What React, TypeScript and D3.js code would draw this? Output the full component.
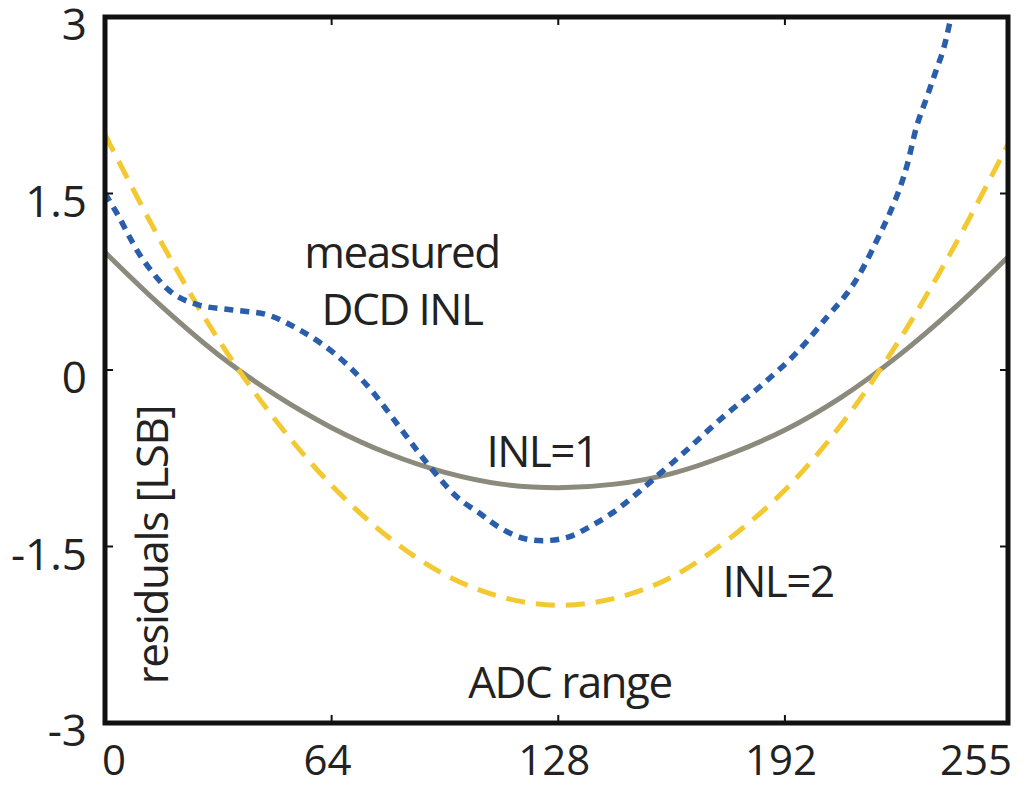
import { useEffect, useRef } from "react";
import * as d3 from "d3";

// ADC codes for the two reference parabolas
const adcCodes = [0, 16, 32, 48, 64, 80, 96, 112, 128, 144, 160, 176, 192, 208, 224, 240, 255];
const inl1Residuals = [1.0, 0.54, 0.13, -0.21, -0.49, -0.71, -0.87, -0.97, -1.0, -0.97, -0.88, -0.72, -0.51, -0.23, 0.12, 0.53, 0.96];
const inl2Residuals = [2.0, 1.08, 0.26, -0.42, -0.98, -1.42, -1.74, -1.93, -2.0, -1.94, -1.76, -1.44, -1.02, -0.46, 0.24, 1.06, 1.92];

// measured DCD INL
const measuredCodes = [0, 3.4, 10.7, 19.2, 26.8, 36, 45.7, 55, 64.4, 74, 83.3, 90.9, 99.4, 105.9, 111.5, 118, 124.3, 130.8, 137, 143.5, 149, 154.8, 164.3, 174.5, 185, 195.4, 203.9, 209.5, 213.2, 218.9, 221.7, 224.5, 226.5, 229.3, 232.1, 234.4, 236.7, 238.4, 241];
const measuredResiduals = [1.5, 1.33, 0.94, 0.65, 0.55, 0.51, 0.47, 0.34, 0.15, -0.13, -0.49, -0.79, -1.08, -1.22, -1.34, -1.43, -1.45, -1.42, -1.33, -1.21, -1.08, -0.93, -0.68, -0.4, -0.14, 0.15, 0.45, 0.65, 0.82, 1.16, 1.34, 1.55, 1.74, 2.08, 2.32, 2.52, 2.72, 2.93, 3.3];

const xTicks = [0, 64, 128, 192, 255];
const yTicks = [3, 1.5, 0, -1.5, -3];

const W = 1027;
const H = 785;
const margin = { left: 105, right: 19, top: 17, bottom: 62 };
const FONT = "'Open Sans', 'Noto Sans', sans-serif";

function App() {
  const svgRef = useRef<SVGSVGElement>(null);

  useEffect(() => {
    const svg = d3.select(svgRef.current);
    svg.selectAll("*").remove();

    const x = d3.scaleLinear().domain([0, 255]).range([margin.left, W - margin.right]);
    const y = d3.scaleLinear().domain([-3, 3]).range([H - margin.bottom, margin.top]);

    svg
      .append("clipPath")
      .attr("id", "plot-clip")
      .append("rect")
      .attr("x", x(0))
      .attr("y", y(3))
      .attr("width", x(255) - x(0))
      .attr("height", y(-3) - y(3));

    const plot = svg.append("g").attr("clip-path", "url(#plot-clip)");
    const line = d3
      .line<[number, number]>()
      .x((d) => x(d[0]))
      .y((d) => y(d[1]))
      .curve(d3.curveCatmullRom);

    const series = [
      { xs: adcCodes, ys: inl1Residuals, color: "#8b8a7c", dash: null, w: 5 },
      { xs: adcCodes, ys: inl2Residuals, color: "#f3c932", dash: "19 11", w: 5 },
      { xs: measuredCodes, ys: measuredResiduals, color: "#2a5daa", dash: "9 7", w: 5.5 },
    ];

    series.forEach((s) => {
      plot
        .append("path")
        .datum(s.xs.map((v, i) => [v, s.ys[i]] as [number, number]))
        .attr("d", line)
        .attr("fill", "none")
        .attr("stroke", s.color)
        .attr("stroke-width", s.w)
        .attr("stroke-dasharray", s.dash);
    });

    // inward ticks on all four sides
    const inner = [64, 128, 192];
    const innerY = [1.5, 0, -1.5];
    const tickLen = 8;
    const axes = svg.append("g").attr("stroke", "#111").attr("stroke-width", 2);
    inner.forEach((t) => {
      axes.append("line").attr("x1", x(t)).attr("x2", x(t)).attr("y1", y(-3)).attr("y2", y(-3) - tickLen);
      axes.append("line").attr("x1", x(t)).attr("x2", x(t)).attr("y1", y(3)).attr("y2", y(3) + tickLen);
    });
    innerY.forEach((t) => {
      axes.append("line").attr("x1", x(0)).attr("x2", x(0) + tickLen).attr("y1", y(t)).attr("y2", y(t));
      axes.append("line").attr("x1", x(255)).attr("x2", x(255) - tickLen).attr("y1", y(t)).attr("y2", y(t));
    });

    svg
      .append("rect")
      .attr("x", x(0))
      .attr("y", y(3))
      .attr("width", x(255) - x(0))
      .attr("height", y(-3) - y(3))
      .attr("fill", "none")
      .attr("stroke", "#111")
      .attr("stroke-width", 5);

    const labels = svg.append("g").attr("font-family", FONT).attr("fill", "#222");

    labels
      .selectAll(".xtick")
      .data(xTicks)
      .join("text")
      .attr("class", "xtick")
      .attr("x", (d, i) => x(d) + (i === 0 ? -3 : i === xTicks.length - 1 ? 4 : -4))
      .attr("y", 775)
      .attr("font-size", 42)
      .attr("text-anchor", (_, i) => (i === 0 ? "start" : i === xTicks.length - 1 ? "end" : "middle"))
      .text((d) => d);

    labels
      .selectAll(".ytick")
      .data(yTicks)
      .join("text")
      .attr("class", "ytick")
      .attr("x", 87)
      .attr("y", (d) => y(d) + 23)
      .attr("font-size", 44)
      .attr("text-anchor", "end")
      .text((d) => d);

    const notes = [
      { text: "measured", x: 402, y: 268 },
      { text: "DCD INL", x: 402, y: 325 },
      { text: "INL=1", x: 542, y: 467 },
      { text: "INL=2", x: 778, y: 597 },
      { text: "ADC range", x: 570, y: 698 },
    ];
    labels
      .selectAll(".note")
      .data(notes)
      .join("text")
      .attr("class", "note")
      .attr("x", (d) => d.x)
      .attr("y", (d) => d.y)
      .attr("font-size", 44)
      .attr("letter-spacing", -1.5)
      .attr("text-anchor", "middle")
      .text((d) => d.text);

    labels
      .append("text")
      .attr("transform", "translate(168,545) rotate(-90)")
      .attr("font-size", 44)
      .attr("letter-spacing", -1.5)
      .attr("text-anchor", "middle")
      .text("residuals [LSB]");
  }, []);

  return (
    <svg
      ref={svgRef}
      width={W}
      height={H}
      style={{ position: "absolute", left: 0, top: 0, background: "#fff" }}
    />
  );
}

export default App;
